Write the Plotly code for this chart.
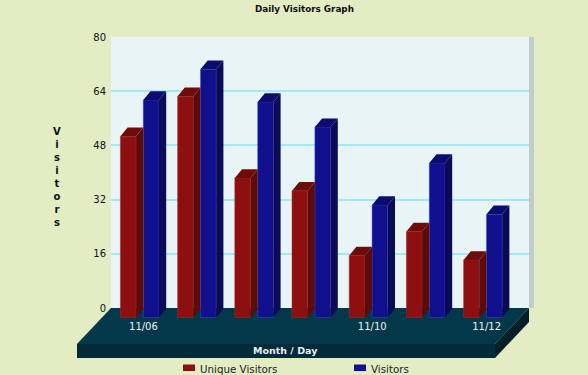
import plotly.graph_objects as go

days = ["11/06", "11/07", "11/08", "11/09", "11/10", "11/11", "11/12"]
unique_visitors = [53.5, 65.3, 41.2, 37.4, 18.3, 25.4, 17.0]
visitors = [64.2, 73.3, 63.6, 56.2, 33.2, 45.6, 30.5]
y_ticks = [0, 16, 32, 48, 64, 80]
grid_values = [16, 32, 48, 64]
shown_days = ["11/06", "11/10", "11/12"]

W, H = 588, 375
L, R, T, B = 111, 529, 37, 358      # plot box in pixels
ZERO_Y = 308                        # pixel row of the value 0 on the back wall
px_per_unit_x = 57.2
px_per_unit_y = (ZERO_Y - T) / 80
x0 = -(139.7 - L) / px_per_unit_x
x1 = (R - 139.7) / px_per_unit_x
y_min = -(B - ZERO_Y) / px_per_unit_y

FLOOR_DROP = -9.5 / px_per_unit_y
DX = 7.2 / px_per_unit_x
DY = 8.7 / px_per_unit_y
BAR_W = 15.7 / px_per_unit_x
OFFSET = 0.2


def px(x):
    return (x - L) / (R - L)


def py(y):
    return (B - y) / (B - T)


def poly(points, color, layer="below"):
    path = "M" + "L".join(f"{px(a):.5f},{py(b):.5f}" for a, b in points) + "Z"
    return dict(type="path", path=path, xref="paper", yref="paper",
                fillcolor=color, line=dict(width=0), layer=layer)


fig = go.Figure()


def add_series(name, values, shift, front, side, top, edge):
    xs = [i + shift for i in range(len(values))]
    sx, sy, tx, ty = [], [], [], []
    for x, v in zip(xs, values):
        r = x + BAR_W / 2
        l = x - BAR_W / 2
        h = FLOOR_DROP + v
        sx += [r, r + DX, r + DX, r, r, None]
        sy += [FLOOR_DROP, FLOOR_DROP + DY, h + DY, h, FLOOR_DROP, None]
        tx += [l, l + DX, r + DX, r, l, None]
        ty += [h, h + DY, h + DY, h, h, None]
    fig.add_trace(go.Scatter(x=sx, y=sy, mode="lines", fill="toself", fillcolor=side,
                             line=dict(width=0, color=side), showlegend=False,
                             hoverinfo="skip"))
    fig.add_trace(go.Scatter(x=tx, y=ty, mode="lines", fill="toself", fillcolor=top,
                             line=dict(width=0, color=top), showlegend=False,
                             hoverinfo="skip"))
    fig.add_trace(go.Bar(x=xs, y=values, base=FLOOR_DROP, width=BAR_W, name=name,
                         marker=dict(color=front, line=dict(width=0.5, color=edge)),
                         showlegend=False))


add_series("Unique Visitors", unique_visitors, -OFFSET, "#8E0F0F", "#5C0A0A", "#6E0C0C", "#A03030")
add_series("Visitors", visitors, OFFSET, "#10108E", "#0A0A58", "#0C0C70", "#4A4AA8")

shapes = [
    poly([(L, T), (R, T), (R, ZERO_Y), (L, ZERO_Y)], "#E8F4F6"),
    poly([(R, T), (R + 5, T), (R + 5, ZERO_Y), (R, ZERO_Y)], "#C0CCCE"),
    poly([(L, ZERO_Y), (R, ZERO_Y), (495, 344), (77, 344)], "#03384A"),
    poly([(77, 344), (495, 344), (495, 358), (77, 358)], "#022A38"),
    poly([(495, 344), (R, ZERO_Y), (R, 322), (495, 358)], "#011F28"),
    poly([(183, 364.5), (195, 364.5), (195, 371), (183, 371)], "#8E0F0F"),
    poly([(354, 364.5), (366, 364.5), (366, 371), (354, 371)], "#10108E"),
]

FONT = "DejaVu Sans"
ann = [
    dict(x=px(304), y=py(9), text="<b>Daily Visitors Graph</b>", font=dict(size=8.8, color="#111111")),
    dict(x=px(57), y=py(177), text="<b>" + "<br>".join("Visitors") + "</b>",
         font=dict(size=10, color="#111111"), align="center"),
    dict(x=px(285), y=py(350.5), text="<b>Month / Day</b>", font=dict(size=9.5, color="#E8F0F0")),
    dict(x=px(198), y=py(368.5), text="Unique Visitors", xanchor="left", font=dict(size=10.3, color="#222222")),
    dict(x=px(369), y=py(368.5), text="Visitors", xanchor="left", font=dict(size=10.3, color="#222222")),
]
for a in ann:
    a.update(xref="paper", yref="paper", showarrow=False)
    a.setdefault("xanchor", "center")
    a.setdefault("yanchor", "middle")

fig.update_layout(
    width=W, height=H, autosize=False,
    margin=dict(l=L, r=W - R, t=T, b=H - B, pad=0),
    paper_bgcolor="#E4ECC4", plot_bgcolor="rgba(0,0,0,0)",
    barmode="overlay", showlegend=False,
    font=dict(family=FONT, size=10, color="#111111"),
    shapes=shapes, annotations=ann,
    xaxis=dict(range=[x0, x1], showgrid=False, zeroline=False, showline=False, ticks="",
               tickmode="array",
               tickvals=[days.index(d) + 0.065 for d in shown_days], ticktext=shown_days,
               tickfont=dict(size=10, color="#F0F4F4"), ticklabelstandoff=-39),
    yaxis=dict(range=[y_min, 80], tickmode="array", tickvals=y_ticks, showline=False, zeroline=False,
               ticks="", showgrid=False,
               minor=dict(tickmode="array", tickvals=grid_values, ticks="", showgrid=True,
                          gridcolor="#A6E8F2", gridwidth=2),
               tickfont=dict(size=10, color="#111111"), ticklabelstandoff=4),
)

fig.write_html("out.html", config={"displayModeBar": False},
               post_script="document.documentElement.style.background='#E4ECC4';"
                           "document.body.style.margin='0';document.body.style.overflow='hidden';")
